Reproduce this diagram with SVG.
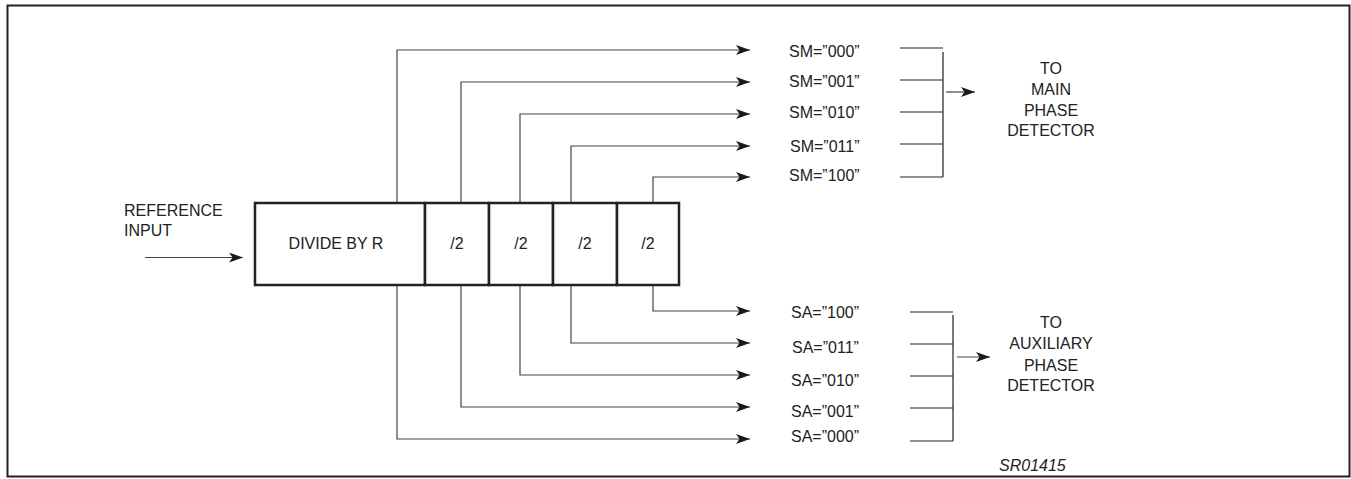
<svg xmlns="http://www.w3.org/2000/svg" width="1351" height="479" viewBox="0 0 1351 479">
<style>
  .t { font-family: "Liberation Sans", Arial, sans-serif; font-size: 16px; fill: #222; }
  .c { text-anchor: middle; }
  .box { fill: #fff; stroke: #222; stroke-width: 2.5; }
  .w { fill: none; stroke: #444; stroke-width: 1.2; }
  .bus { fill: none; stroke: #222; stroke-width: 1.2; }
</style>
<defs>
  <marker id="ah" markerUnits="userSpaceOnUse" markerWidth="14" markerHeight="10" refX="14" refY="5" orient="auto">
    <path d="M0,0 L14,5 L0,10 L3.5,5 z" fill="#1a1a1a"/>
  </marker>
</defs>
<rect width="1351" height="479" fill="#fff"/>
<rect id="frame" x="7.5" y="5.5" width="1342" height="471" fill="none" stroke="#222" stroke-width="2"/>

<g id="connectors">
  <path class="w" d="M145,257.5 H243" marker-end="url(#ah)"/>
  <path class="w" d="M397,203 V50 H750" marker-end="url(#ah)"/>
  <path class="w" d="M461,203 V82 H750" marker-end="url(#ah)"/>
  <path class="w" d="M520,203 V114 H750" marker-end="url(#ah)"/>
  <path class="w" d="M571,203 V146 H750" marker-end="url(#ah)"/>
  <path class="w" d="M653,203 V177 H750" marker-end="url(#ah)"/>
  <path class="w" d="M397,285 V439 H750" marker-end="url(#ah)"/>
  <path class="w" d="M461,285 V407 H750" marker-end="url(#ah)"/>
  <path class="w" d="M520,285 V375 H750" marker-end="url(#ah)"/>
  <path class="w" d="M571,285 V343 H750" marker-end="url(#ah)"/>
  <path class="w" d="M653,285 V311 H750" marker-end="url(#ah)"/>
  <path class="bus" d="M900,48 H943 M900,80 H943 M900,112 H943 M900,144 H943 M900,177 H943 M943,52 V177"/>
  <path class="w" d="M946,92 H975" marker-end="url(#ah)"/>
  <path class="bus" d="M910,312 H953 M910,344 H953 M910,376 H953 M910,408 H953 M910,441 H953 M953,315 V441"/>
  <path class="w" d="M957,357 H990" marker-end="url(#ah)"/>
</g>

<g id="ref-input">
  <text class="t" x="124" y="216">REFERENCE</text>
  <text class="t" x="124" y="236">INPUT</text>
</g>

<g id="divide-by-r">
  <rect class="box" x="255" y="203" width="170" height="82"/>
  <text class="t c" x="336" y="249">DIVIDE BY R</text>
</g>
<g id="div2-1">
  <rect class="box" x="425" y="203" width="64" height="82"/>
  <text class="t c" x="457" y="249">/2</text>
</g>
<g id="div2-2">
  <rect class="box" x="489" y="203" width="64" height="82"/>
  <text class="t c" x="521" y="249">/2</text>
</g>
<g id="div2-3">
  <rect class="box" x="553" y="203" width="64" height="82"/>
  <text class="t c" x="585" y="249">/2</text>
</g>
<g id="div2-4">
  <rect class="box" x="617" y="203" width="62" height="82"/>
  <text class="t c" x="648" y="249">/2</text>
</g>

<g id="sm-labels">
  <text class="t" x="789" y="56.5">SM=”000”</text>
  <text class="t" x="789" y="86.5">SM=”001”</text>
  <text class="t" x="789" y="118">SM=”010”</text>
  <text class="t" x="790" y="151.5">SM=”011”</text>
  <text class="t" x="789" y="180.5">SM=”100”</text>
</g>
<g id="main-pd">
  <text class="t c" x="1051" y="74">TO</text>
  <text class="t c" x="1051" y="95">MAIN</text>
  <text class="t c" x="1051" y="115.5">PHASE</text>
  <text class="t c" x="1051" y="136">DETECTOR</text>
</g>

<g id="sa-labels">
  <text class="t" x="791" y="317.5">SA=”100”</text>
  <text class="t" x="792" y="352.5">SA=”011”</text>
  <text class="t" x="791" y="386">SA=”010”</text>
  <text class="t" x="791" y="416.5">SA=”001”</text>
  <text class="t" x="791" y="441.5">SA=”000”</text>
</g>
<g id="aux-pd">
  <text class="t c" x="1051" y="328">TO</text>
  <text class="t c" x="1051" y="349">AUXILIARY</text>
  <text class="t c" x="1051" y="370.5">PHASE</text>
  <text class="t c" x="1051" y="391">DETECTOR</text>
</g>

<text class="t" x="999" y="470.5" font-style="italic" font-size="15.5">SR01415</text>
</svg>
